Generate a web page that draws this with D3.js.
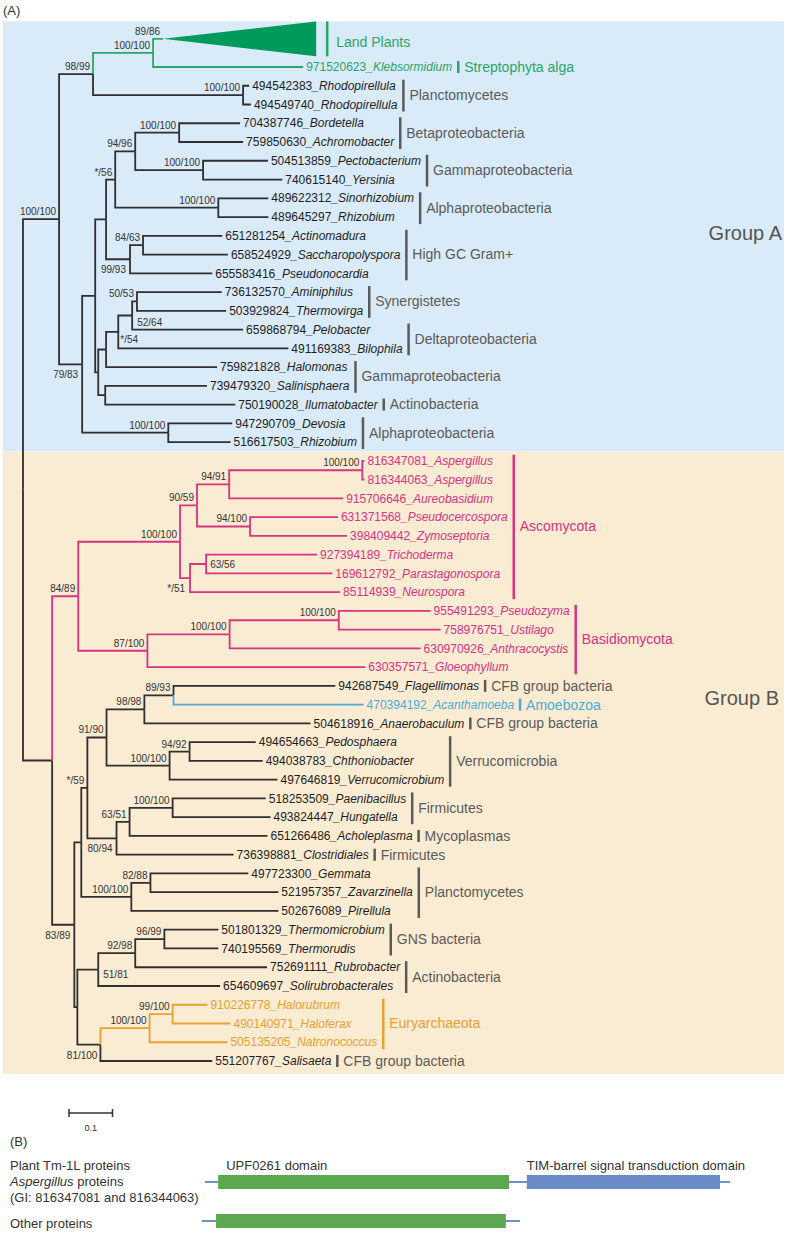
<!DOCTYPE html>
<html><head><meta charset="utf-8">
<script src="https://cdn.jsdelivr.net/npm/d3@7"></script>
<style>
body{margin:0;background:#fff;}
svg{display:block;font-family:"Liberation Sans",Arial,Helvetica,sans-serif;}
</style></head><body>
<svg id="chart" width="787" height="1240"></svg>
<script>
// ---------------- DATA ----------------
// internal nodes: [id, parent, branch length (substitutions/site), support]
const internalNodes = [
 ["root", null, 0, null],
 ["A", "root", 0.083, "100/100"],
 ["A1", "A", 0.078, "98/99"],
 ["P", "A1", 0.138, "100/100"],
 ["R", "A1", 0.345, "100/100"],
 ["A2", "A", 0.053, "79/83"],
 ["A3", "A2", 0.030, null],
 ["A4", "A3", 0.025, null],
 ["G2", "A4", 0.021, "*/56"],
 ["G1", "G2", 0.046, "94/96"],
 ["Beta", "G1", 0.101, "100/100"],
 ["Gam", "G1", 0.156, "100/100"],
 ["Alph", "G2", 0.237, "100/100"],
 ["G3", "A4", 0.055, "99/93"],
 ["H1", "G3", 0.030, "84/63"],
 ["A5", "A3", 0.007, null],
 ["B1", "A5", 0.018, null],
 ["C1", "B1", 0.028, "*/54"],
 ["D1", "C1", 0.032, "52/64"],
 ["E1", "D1", 0.011, "50/53"],
 ["B2", "A5", 0.016, null],
 ["Dev", "A2", 0.198, "100/100"],
 ["B", "root", 0.067, null],
 ["F", "B", 0.060, "84/89"],
 ["Asco", "F", 0.234, "100/100"],
 ["N9059", "Asco", 0.039, "90/59"],
 ["N9491", "N9059", 0.074, "94/91"],
 ["Asp", "N9491", 0.306, "100/100"],
 ["N94100", "N9059", 0.122, "94/100"],
 ["N51", "Asco", 0.023, "*/51"],
 ["N6356", "N51", 0.037, "63/56"],
 ["Basid", "F", 0.159, "87/100"],
 ["Bas2", "Basid", 0.189, "100/100"],
 ["Bas3", "Bas2", 0.251, "100/100"],
 ["X0", "B", 0.051, "83/89"],
 ["Y1", "X0", 0.016, null],
 ["S59", "Y1", 0.014, "*/59"],
 ["N9190", "S59", 0.044, "91/90"],
 ["N9898", "N9190", 0.087, "98/98"],
 ["N8993", "N9898", 0.067, "89/93"],
 ["Verr", "N9190", 0.145, "100/100"],
 ["N9492", "Verr", 0.046, "94/92"],
 ["N8094", "S59", 0.067, "80/94"],
 ["N6351", "N8094", 0.030, "63/51"],
 ["Firm", "N6351", 0.099, "100/100"],
 ["Planc", "Y1", 0.115, "100/100"],
 ["N8288", "Planc", 0.044, "82/88"],
 ["Y2", "X0", 0.007, null],
 ["N5181", "Y2", 0.048, "51/81"],
 ["N9298", "N5181", 0.085, "92/98"],
 ["N9699", "N9298", 0.067, "96/99"],
 ["N81100", "Y2", 0.053, "81/100"],
 ["Eury", "N81100", 0.113, "100/100"],
 ["N99100", "Eury", 0.053, "99/100"]
];

// leaves in display order: [GI, genus, parent, branch length]
const leaves = [
 ["971520623", "Klebsormidium", "P", 0.345],
 ["494542383", "Rhodopirellula", "R", 0.014],
 ["494549740", "Rhodopirellula", "R", 0.018],
 ["704387746", "Bordetella", "Beta", 0.140],
 ["759850630", "Achromobacter", "Beta", 0.147],
 ["504513859", "Pectobacterium", "Gam", 0.149],
 ["740615140", "Yersinia", "Gam", 0.182],
 ["489622312", "Sinorhizobium", "Alph", 0.115],
 ["489645297", "Rhizobium", "Alph", 0.115],
 ["651281254", "Actinomadura", "H1", 0.182],
 ["658524929", "Saccharopolyspora", "H1", 0.195],
 ["655583416", "Pseudonocardia", "G3", 0.189],
 ["736132570", "Aminiphilus", "E1", 0.195],
 ["503929824", "Thermovirga", "E1", 0.205],
 ["659868794", "Pelobacter", "D1", 0.255],
 ["491169383", "Bilophila", "C1", 0.391],
 ["759821828", "Halomonas", "B1", 0.255],
 ["739479320", "Salinisphaera", "B2", 0.234],
 ["750190028", "Ilumatobacter", "B2", 0.299],
 ["947290709", "Devosia", "Dev", 0.147],
 ["516617503", "Rhizobium", "Dev", 0.143],
 ["816347081", "Aspergillus", "Asp", 0.005],
 ["816344063", "Aspergillus", "Asp", 0.005],
 ["915706646", "Aureobasidium", "N9491", 0.262],
 ["631371568", "Pseudocercospora", "N94100", 0.202],
 ["398409442", "Zymoseptoria", "N94100", 0.223],
 ["927394189", "Trichoderma", "N6356", 0.255],
 ["169612792", "Parastagonospora", "N6356", 0.290],
 ["85114939", "Neurospora", "N51", 0.345],
 ["955491293", "Pseudozyma", "Bas3", 0.211],
 ["758976751", "Ustilago", "Bas3", 0.234],
 ["630970926", "Anthracocystis", "Bas2", 0.439],
 ["630357571", "Gloeophyllum", "Basid", 0.501],
 ["942687549", "Flagellimonas", "N8993", 0.372],
 ["470394192", "Acanthamoeba", "N8993", 0.437],
 ["504618916", "Anaerobaculum", "N9898", 0.382],
 ["494654663", "Pedosphaera", "N9492", 0.152],
 ["494038783", "Chthoniobacter", "N9492", 0.168],
 ["497646819", "Verrucomicrobium", "Verr", 0.248],
 ["518253509", "Paenibacillus", "Firm", 0.214],
 ["493824447", "Hungatella", "Firm", 0.225],
 ["651266486", "Acholeplasma", "N6351", 0.317],
 ["736398881", "Clostridiales", "N8094", 0.269],
 ["497723300", "Gemmata", "N8288", 0.225],
 ["521957357", "Zavarzinella", "N8288", 0.294],
 ["502676089", "Pirellula", "Planc", 0.338],
 ["501801329", "Thermomicrobium", "N9699", 0.124],
 ["740195569", "Thermorudis", "N9699", 0.124],
 ["752691111", "Rubrobacter", "N9298", 0.303],
 ["654609697", "Solirubrobacterales", "N5181", 0.280],
 ["910226778", "Halorubrum", "N99100", 0.080],
 ["490140971", "Haloferax", "N99100", 0.133],
 ["505135205", "Natronococcus", "Eury", 0.179],
 ["551207767", "Salisaeta", "N81100", 0.257]
];

// collapsed clade: [name, parent, branch length, support, clade depth, row, half-height in rows]
const collapsed = ["Land Plants", "P", 0.023, "89/86", 0.352, -1.5, 0.93];

// clade brackets: [label, first leaf row, last leaf row]
const cladeBars = [
 ["Planctomycetes", 1, 2],
 ["Betaproteobacteria", 3, 4],
 ["Gammaproteobacteria", 5, 6],
 ["Alphaproteobacteria", 7, 8],
 ["High GC Gram+", 9, 11],
 ["Synergistetes", 12, 13],
 ["Deltaproteobacteria", 14, 15],
 ["Gammaproteobacteria", 16, 17],
 ["Alphaproteobacteria", 19, 20],
 ["Ascomycota", 21, 28],
 ["Basidiomycota", 29, 32],
 ["Verrucomicrobia", 36, 38],
 ["Firmicutes", 39, 40],
 ["Planctomycetes", 43, 45],
 ["GNS bacteria", 46, 47],
 ["Actinobacteria", 48, 49],
 ["Euryarchaeota", 50, 52]
];
// single-leaf taxon labels: [label, leaf row]
const inlineClades = [
 ["Streptophyta alga", 0],
 ["Actinobacteria", 18],
 ["CFB group bacteria", 33],
 ["Amoebozoa", 34],
 ["CFB group bacteria", 35],
 ["Mycoplasmas", 41],
 ["Firmicutes", 42],
 ["CFB group bacteria", 53]
];
// lineages drawn in colour
const lineageGroups = [["P", "green"], ["F", "pink"], ["Eury", "orange"], ["470394192", "blue"]];
const groupNames = ["Group A", "Group B"];
const scaleBarValue = 0.1;

// Panel B
const proteinLabels = [["Plant Tm-1L proteins", "Aspergillus| proteins", "(GI: 816347081 and 816344063)"], ["Other proteins"]];
const proteinSpans = [[0, 100], [-0.6, 60]];
const domainNames = ["UPF0261 domain", "TIM-barrel signal transduction domain"];
const domainSpans = [[[2.5, 57.9, 0], [61.3, 98.1, 1]], [[2.1, 57.3, 0]]];

// ---------------- STYLE ----------------
const C = {
  dark: "#2f2f2f", green: "#2aa66a", pink: "#d8347f", orange: "#e9a12f", blue: "#4eaad6",
  greenFill: "#009b5b", grey: "#5a5a5a", bgA: "#d9eaf8", bgB: "#faebd3",
  domain0: "#5ba851", domain1: "#6a8bc8", protLine: "#7090c8"
};
const textColor = {dark: "#1e1e1e", green: "#2aa66a", pink: "#d8347f", orange: "#e9a12f", blue: "#4eaad6"};
const labelColor = {dark: C.grey, green: "#2aa66a", pink: "#d8347f", orange: "#e9a12f", blue: "#4eaad6"};
const supportPos = {
  A2: {dx: -4, dy: 14, a: "end"}, G3: {dx: -4, dy: 14, a: "end"}, N51: {dx: -5, dy: 14, a: "end"},
  N8094: {dx: -4, dy: 14, a: "end"}, X0: {dx: -4, dy: 14, a: "end"}, N81100: {dx: -3, dy: 14, a: "end"},
  N6356: {dx: 4, dy: 4, a: "start"}, D1: {dx: 5, dy: 10, a: "start"}, C1: {dx: 2, dy: 11, a: "start"},
  N5181: {dx: 5, dy: 8, a: "start"}
};

const svg = d3.select("#chart");
const xScale = d3.scaleLinear().domain([0, 1]).range([23, 458]);
const yScale = d3.scaleLinear().domain([0, 53]).range([67, 1061]);
const rowStep = yScale(1) - yScale(0);

// build tree
const records = internalNodes.map(d => ({id: d[0], parent: d[1], len: d[2], support: d[3], type: "node"}));
leaves.forEach((d, i) => records.push({id: d[0], gi: d[0], genus: d[1], parent: d[2], len: d[3], support: null, type: "leaf", row: i}));
records.push({id: collapsed[0], parent: collapsed[1], len: collapsed[2], support: collapsed[3], type: "collapsed",
  depth: collapsed[4], row: collapsed[5], half: collapsed[6]});
const root = d3.stratify().id(d => d.id).parentId(d => d.parent)(records);
const lineage = new Map(lineageGroups);
root.eachBefore(n => {
  n.dist = n.parent ? n.parent.dist + n.data.len : 0;
  n.x = xScale(n.dist);
  n.color = lineage.get(n.id) || (n.parent ? n.parent.color : "dark");
});
root.eachAfter(n => {
  if (!n.children) n.y = yScale(n.data.row);
  else { const ys = n.children.map(c => c.y); n.y = (d3.min(ys) + d3.max(ys)) / 2; }
});

// backgrounds
const cl = root.leaves().find(n => n.data.type === "collapsed");
const topA = cl.y - cl.data.half * rowStep;
const split = (yScale(20) + yScale(21)) / 2;
const bottomB = yScale(53) + 13;
svg.append("rect").attr("x", 3).attr("y", topA).attr("width", 781).attr("height", split - topA).attr("fill", C.bgA);
svg.append("rect").attr("x", 3).attr("y", split).attr("width", 781).attr("height", bottomB - split).attr("fill", C.bgB);

svg.append("text").attr("x", 3).attr("y", 10).attr("dy", "0.35em").attr("font-size", 13).attr("fill", "#333").text("(A)");

// branches
const nonRoot = root.descendants().filter(n => n.parent);
const order = {dark: 0, green: 1, pink: 1, orange: 1, blue: 1};
nonRoot.sort((a, b) => order[a.color] - order[b.color]);
svg.append("g").attr("fill", "none").attr("stroke-width", 1.8)
  .selectAll("path").data(nonRoot).join("path")
  .attr("stroke", d => C[d.color])
  .attr("d", d => `M${d.parent.x},${d.parent.y}V${d.y}H${d.x}`);

// collapsed triangle
const triX = xScale(cl.dist + cl.data.depth);
const triH = cl.data.half * rowStep;
svg.append("path").attr("fill", C.greenFill)
  .attr("d", `M${cl.x},${cl.y}L${triX},${cl.y - triH}L${triX},${cl.y + triH}Z`);
svg.append("line").attr("x1", triX + 11).attr("x2", triX + 11).attr("y1", cl.y - triH).attr("y2", cl.y + triH)
  .attr("stroke", C.green).attr("stroke-width", 2.5);
svg.append("text").attr("x", triX + 20).attr("y", cl.y + 3).attr("dy", "0.35em").attr("font-size", 14)
  .attr("fill", C.green).text(cl.data.id);

// support values
const supNodes = root.descendants().filter(n => n.data.support);
svg.append("g").attr("font-size", 10).attr("fill", "#333")
  .selectAll("text").data(supNodes).join("text")
  .attr("x", d => d.x + (supportPos[d.id] ? supportPos[d.id].dx : -3))
  .attr("y", d => d.y + (supportPos[d.id] ? supportPos[d.id].dy : -4))
  .attr("text-anchor", d => supportPos[d.id] ? supportPos[d.id].a : "end")
  .text(d => d.data.support);

// leaf labels
const leafNodes = root.leaves().filter(n => n.data.type === "leaf").sort((a, b) => a.data.row - b.data.row);
const lbl = svg.append("g").attr("font-size", 12).selectAll("text").data(leafNodes).join("text")
  .attr("x", d => d.x + 3).attr("y", d => d.y).attr("dy", "0.35em")
  .attr("fill", d => textColor[d.color]);
lbl.append("tspan").text(d => d.data.gi);
lbl.append("tspan").attr("font-style", "italic").text(d => "_" + d.data.genus);
lbl.each(function (d) { d.labelEnd = d.x + 3 + this.getComputedTextLength(); });
const byRow = leafNodes;

// clade brackets
const gc = svg.append("g");
cladeBars.forEach(([name, r0, r1]) => {
  const bx = d3.max(byRow.slice(r0, r1 + 1), d => d.labelEnd) + 6;
  const col = byRow[r0].color;
  gc.append("line").attr("x1", bx).attr("x2", bx).attr("y1", yScale(r0) - 6).attr("y2", yScale(r1) + 7)
    .attr("stroke", col === "dark" ? C.grey : C[col]).attr("stroke-width", 2.5);
  gc.append("text").attr("x", bx + 6).attr("y", (yScale(r0) + yScale(r1)) / 2).attr("dy", "0.35em")
    .attr("font-size", 14).attr("fill", labelColor[col]).text(name);
});
inlineClades.forEach(([name, r]) => {
  const d = byRow[r];
  const bx = d.labelEnd + 6;
  gc.append("line").attr("x1", bx).attr("x2", bx).attr("y1", d.y - 6).attr("y2", d.y + 6)
    .attr("stroke", d.color === "dark" ? C.grey : C[d.color]).attr("stroke-width", 2.5);
  gc.append("text").attr("x", bx + 6).attr("y", d.y).attr("dy", "0.35em")
    .attr("font-size", 14).attr("fill", labelColor[d.color]).text(name);
});

// group names
svg.append("text").attr("x", 782).attr("y", 233).attr("dy", "0.35em").attr("text-anchor", "end")
  .attr("font-size", 20).attr("fill", "#555").text(groupNames[0]);
svg.append("text").attr("x", 779).attr("y", 698).attr("dy", "0.35em").attr("text-anchor", "end")
  .attr("font-size", 20).attr("fill", "#555").text(groupNames[1]);

// scale bar
const sb0 = 69, sb1 = sb0 + (xScale(scaleBarValue) - xScale(0)), sby = 1113;
const gs = svg.append("g").attr("stroke", "#333").attr("stroke-width", 1.5);
gs.append("line").attr("x1", sb0).attr("x2", sb1).attr("y1", sby).attr("y2", sby);
gs.append("line").attr("x1", sb0).attr("x2", sb0).attr("y1", sby - 4).attr("y2", sby + 4);
gs.append("line").attr("x1", sb1).attr("x2", sb1).attr("y1", sby - 4).attr("y2", sby + 4);
svg.append("text").attr("x", (sb0 + sb1) / 2).attr("y", 1128).attr("dy", "0.35em").attr("text-anchor", "middle")
  .attr("font-size", 9).attr("fill", "#333").text(scaleBarValue);

// ---------------- Panel B ----------------
svg.append("text").attr("x", 10).attr("y", 1141).attr("dy", "0.35em").attr("font-size", 13).attr("fill", "#333").text("(B)");
const px = d3.scaleLinear().domain([0, 100]).range([205, 730]);
const rowY = [1182, 1221];
const labelY = [[1165, 1181, 1197], [1223]];
proteinLabels.forEach((lines, i) => {
  lines.forEach((t, j) => {
    const tx = svg.append("text").attr("x", 10).attr("y", labelY[i][j]).attr("dy", "0.35em")
      .attr("font-size", 13).attr("fill", "#333");
    if (t.includes("|")) {
      const [a, b] = t.split("|");
      tx.append("tspan").attr("font-style", "italic").text(a);
      tx.append("tspan").text(b);
    } else tx.text(t);
  });
  svg.append("line").attr("x1", px(proteinSpans[i][0])).attr("x2", px(proteinSpans[i][1]))
    .attr("y1", rowY[i]).attr("y2", rowY[i]).attr("stroke", C.protLine).attr("stroke-width", 2);
  domainSpans[i].forEach(([s, e, k]) => {
    svg.append("rect").attr("x", px(s)).attr("y", rowY[i] - 7).attr("width", px(e) - px(s)).attr("height", 14)
      .attr("fill", C["domain" + k]);
    if (i === 0) {
      svg.append("text").attr("x", px(s) + (k === 0 ? 8 : 0)).attr("y", 1165).attr("dy", "0.35em")
        .attr("font-size", 13).attr("fill", "#333").text(domainNames[k]);
    }
  });
});
</script>
</body></html>
